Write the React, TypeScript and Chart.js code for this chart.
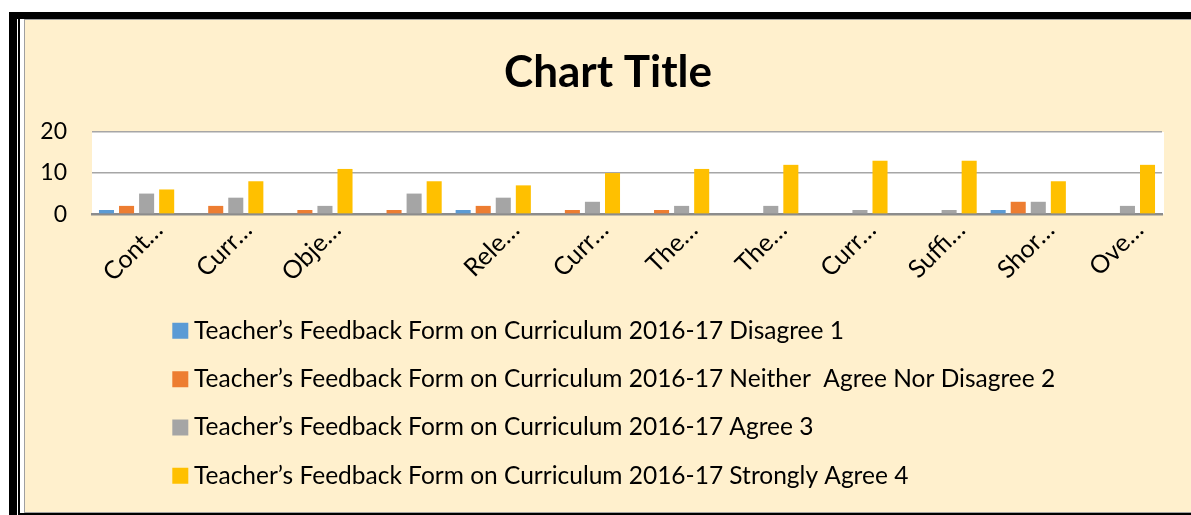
import React, { useEffect, useRef } from "react";
import { Chart, registerables } from "chart.js";

Chart.register(...registerables);

const categories = ["Cont…", "Curr…", "Obje…", "", "Rele…", "Curr…", "The…", "The…", "Curr…", "Suffi…", "Shor…", "Ove…"];
const disagree = [1, 0, 0, 0, 1, 0, 0, 0, 0, 0, 1, 0];
const neither = [2, 2, 1, 1, 2, 1, 1, 0, 0, 0, 3, 0];
const agree = [5, 4, 2, 5, 4, 3, 2, 2, 1, 1, 3, 2];
const stronglyAgree = [6, 8, 11, 8, 7, 10, 11, 12, 13, 13, 8, 12];
const seriesNames = [
  "Teacher’s Feedback Form on Curriculum 2016-17 Disagree 1",
  "Teacher’s Feedback Form on Curriculum 2016-17 Neither  Agree Nor Disagree 2",
  "Teacher’s Feedback Form on Curriculum 2016-17 Agree 3",
  "Teacher’s Feedback Form on Curriculum 2016-17 Strongly Agree 4",
];
const seriesColors = ["#5B9BD5", "#ED7D31", "#A5A5A5", "#FFC000"];
const yTicks = [0, 10, 20];

const CREAM = "#FFF0CD";
const FONT = "Lato";

const plotBg = {
  id: "plotBg",
  beforeDraw(chart: any) {
    const { ctx, chartArea } = chart;
    if (!chartArea) return;
    ctx.save();
    ctx.fillStyle = "#FFFFFF";
    ctx.fillRect(chartArea.left, chartArea.top, chartArea.right - chartArea.left + 2, chartArea.bottom - chartArea.top);
    ctx.restore();
  },
};

const boxShift = {
  id: "boxShift",
  afterLayout(chart: any) {
    const lg = chart.legend;
    if (lg) {
      const w = lg.right - lg.left;
      lg.left = 130;
      lg.right = 130 + w;
    }
    const tb = chart.titleBlock;
    if (tb) {
      tb.left = 0;
      tb.right = chart.width;
      tb.width = chart.width;
    }
  },
};

export default function App() {
  const ref = useRef<HTMLCanvasElement | null>(null);
  useEffect(() => {
    if (!ref.current) return;
    const data = [disagree, neither, agree, stronglyAgree];
    const chart = new Chart(ref.current, {
      type: "bar",
      data: {
        labels: categories,
        datasets: data.map((d, i) => ({
          label: seriesNames[i],
          data: d,
          backgroundColor: seriesColors[i],
          borderWidth: 0,
          categoryPercentage: 0.9,
          barPercentage: 0.75,
        })),
      },
      options: {
        animation: false,
        responsive: false,
        maintainAspectRatio: false,
        layout: { padding: { left: 0, right: 29, top: 0, bottom: 14 } },
        plugins: {
          title: {
            display: true,
            text: "Chart Title",
            color: "#000",
            font: { family: FONT, size: 44, weight: "bold" },
            padding: { top: 26, bottom: 33.2 },
          },
          legend: {
            display: true,
            position: "bottom",
            align: "start",
            labels: {
              color: "#000",
              font: { family: FONT, size: 24.5 },
              usePointStyle: true,
              pointStyle: "rect",
              boxWidth: 3,
              boxHeight: 16,
              padding: 23.8,
            },
          },
          tooltip: { enabled: false },
        },
        scales: {
          x: {
            grid: { display: false, drawTicks: false },
            border: { display: true, color: "#8C8C8C", width: 2.5 },
            ticks: {
              autoSkip: false,
              minRotation: 45,
              maxRotation: 45,
              color: "#000",
              font: { family: FONT, size: 25 },
              padding: 1,
              labelOffset: 22,
            },
            afterFit: (s: any) => {
              s.height = 80.7;
            },
          },
          y: {
            min: 0,
            max: 20,
            afterBuildTicks: (s: any) => {
              s.ticks = yTicks.map((v) => ({ value: v }));
            },
            grid: {
              drawTicks: false,
              lineWidth: 1.5,
              color: (c: any) => (c.tick && c.tick.value === 0 ? "rgba(0,0,0,0)" : "#A6A6A6"),
            },
            border: { display: false },
            ticks: {
              color: "#000",
              font: { family: FONT, size: 23 },
              padding: 25,
            },
            afterFit: (s: any) => {
              s.width = 67;
            },
          },
        },
      },
      plugins: [plotBg, boxShift],
    });
    return () => chart.destroy();
  }, []);

  const box = (l: number, t: number, w: number, h: number, bg: string) => (
    <div style={{ position: "absolute", left: l, top: t, width: w, height: h, background: bg }} />
  );

  return (
    <div style={{ position: "fixed", left: 0, top: 0, width: 1191, height: 515, background: "#FFFFFF", overflow: "hidden" }}>
      {box(9, 12, 1182, 7, "#000")}
      {box(9, 12, 8, 503, "#000")}
      {box(18, 19, 1.5, 496, "#000")}
      {box(24, 19, 1167, 1, "#A0A0A0")}
      {box(24, 19, 1, 494, "#A0A0A0")}
      {box(24, 512, 1167, 1, "#A0A0A0")}
      {box(18, 513, 1173, 2, "#000")}
      <canvas
        ref={ref}
        width={1166}
        height={492}
        style={{ position: "absolute", left: 25, top: 20, width: 1166, height: 492, background: CREAM, display: "block" }}
      />
    </div>
  );
}
